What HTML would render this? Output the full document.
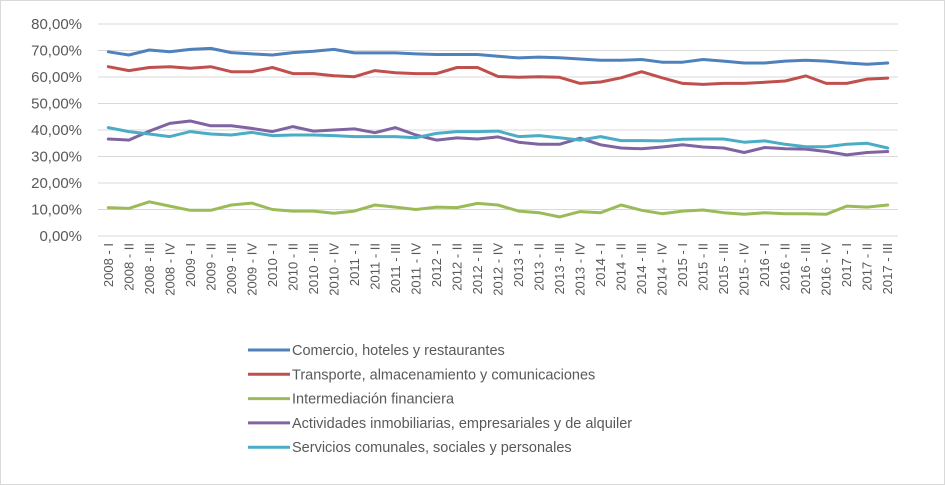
<!DOCTYPE html>
<html><head><meta charset="utf-8"><style>
body{margin:0;background:#fff;}
svg{display:block;font-family:"Liberation Sans",sans-serif;}
</style></head><body>
<svg id="chart" width="945" height="485">
<rect x="0.5" y="0.5" width="944" height="484" fill="#fff" stroke="#d9d9d9"/>
<g id="grid"></g><g id="yticks"></g><g id="xticks"></g><g id="series"></g><g id="legend"></g>
</svg>
<script>
const categories = ["2008 - I","2008 - II","2008 - III","2008 - IV","2009 - I","2009 - II","2009 - III","2009 - IV","2010 - I","2010 - II","2010 - III","2010 - IV","2011 - I","2011 - II","2011 - III","2011 - IV","2012 - I","2012 - II","2012 - III","2012 - IV","2013 - I","2013 - II","2013 - III","2013 - IV","2014 - I","2014 - II","2014 - III","2014 - IV","2015 - I","2015 - II","2015 - III","2015 - IV","2016 - I","2016 - II","2016 - III","2016 - IV","2017 - I","2017 - II","2017 - III"];
const yTicks = [0,10,20,30,40,50,60,70,80];
const seriesNames = ["Comercio, hoteles y restaurantes","Transporte, almacenamiento y comunicaciones","Intermediación financiera","Actividades inmobiliarias, empresariales y de alquiler","Servicios comunales, sociales y personales"];
const seriesColors = ["#4F81BD","#C0504D","#9BBB59","#8064A2","#4BACC6"];
const comercio = [69.5,68.3,70.2,69.5,70.4,70.8,69.2,68.7,68.3,69.2,69.7,70.4,69.1,69.1,69.1,68.7,68.5,68.5,68.5,67.8,67.2,67.5,67.3,66.8,66.3,66.3,66.6,65.6,65.6,66.6,66.0,65.3,65.3,66.0,66.3,66.0,65.3,64.8,65.3];
const transporte = [63.9,62.4,63.6,63.9,63.3,63.9,62.0,62.0,63.6,61.3,61.3,60.5,60.1,62.4,61.6,61.3,61.3,63.6,63.6,60.2,59.9,60.1,59.9,57.6,58.1,59.7,62.0,59.7,57.6,57.2,57.6,57.6,58.0,58.5,60.4,57.6,57.6,59.2,59.6];
const intermediacion = [10.7,10.4,12.9,11.3,9.7,9.7,11.7,12.4,10.0,9.4,9.4,8.6,9.4,11.7,10.9,10.0,10.9,10.7,12.3,11.7,9.4,8.8,7.2,9.2,8.8,11.7,9.7,8.4,9.4,9.8,8.8,8.2,8.8,8.4,8.4,8.2,11.3,10.9,11.7];
const actividades = [36.6,36.2,39.6,42.5,43.4,41.6,41.6,40.6,39.4,41.3,39.6,40.0,40.4,39.0,40.9,38.1,36.2,37.0,36.6,37.4,35.4,34.6,34.6,36.9,34.4,33.2,32.9,33.6,34.4,33.6,33.2,31.5,33.4,32.9,32.8,31.9,30.6,31.5,31.9];
const servicios = [40.9,39.4,38.5,37.5,39.4,38.5,38.1,39.1,37.9,38.1,38.1,37.9,37.5,37.5,37.5,37.1,38.7,39.4,39.4,39.6,37.5,37.9,37.1,36.2,37.5,36.0,36.0,35.9,36.5,36.6,36.6,35.4,35.9,34.6,33.7,33.7,34.6,35.0,33.2];
const allSeries = [comercio,transporte,intermediacion,actividades,servicios];

const NS="http://www.w3.org/2000/svg";
const plotL=98, plotR=898, y0=236, yTop=24, yMax=80;
const step=(plotR-plotL)/categories.length;
function xPos(i){return plotL+step*(i+0.5);}
function yPos(v){return y0-(y0-yTop)*v/yMax;}
function mk(tag,attrs,parent){const e=document.createElementNS(NS,tag);for(const k in attrs)e.setAttribute(k,attrs[k]);parent.appendChild(e);return e;}
const grid=document.getElementById('grid'),yt=document.getElementById('yticks'),xt=document.getElementById('xticks'),ser=document.getElementById('series'),leg=document.getElementById('legend');
yTicks.forEach(v=>{
  const l=mk('line',{x1:plotL,x2:plotR,y1:yPos(v),y2:yPos(v),stroke:'#d9d9d9','stroke-width':1},grid);
  
  
  const t=mk('text',{x:82,y:yPos(v)+5,'text-anchor':'end','font-size':15,fill:'#595959'},yt);
  t.textContent=v.toFixed(2).replace('.',',')+'%';
  
  
});
categories.forEach((c,i)=>{
  const x=xPos(i)+4.5;
  const t=mk('text',{x:0,y:0,'text-anchor':'end','font-size':13,fill:'#595959',transform:`translate(${x},243) rotate(-90)`},xt);
  t.textContent=c;
  
  
});
allSeries.forEach((s,k)=>{
  const pts=s.map((v,i)=>xPos(i).toFixed(1)+','+yPos(v).toFixed(1)).join(' ');
  const p=mk('polyline',{points:pts,fill:'none',stroke:seriesColors[k],'stroke-width':3,'stroke-linejoin':'round','stroke-linecap':'round'},ser);
  
  
  const ly=350+k*24.3;
  const ll=mk('line',{x1:248,x2:290,y1:ly,y2:ly,stroke:seriesColors[k],'stroke-width':3},leg);
  
  
  const lt=mk('text',{x:292,y:ly+5,'font-size':14.5,fill:'#595959'},leg);
  lt.textContent=seriesNames[k];
  
  
});
</script>
</body></html>
